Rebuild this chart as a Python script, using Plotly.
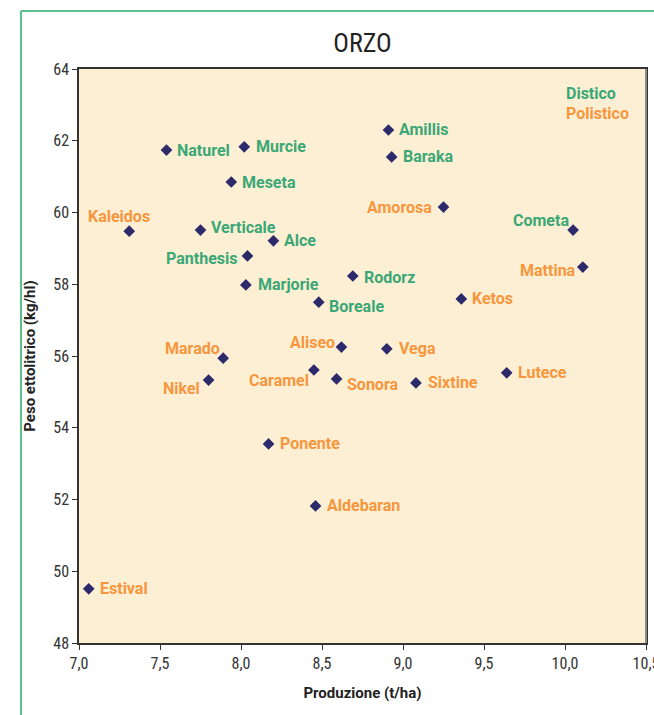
import plotly.graph_objects as go

varieties = ["Naturel", "Murcie", "Meseta", "Kaleidos", "Verticale", "Alce", "Panthesis",
             "Marjorie", "Boreale", "Rodorz", "Amillis", "Baraka", "Amorosa", "Cometa",
             "Mattina", "Ketos", "Marado", "Nikel", "Aliseo", "Caramel", "Sonora", "Vega",
             "Sixtine", "Lutece", "Ponente", "Aldebaran", "Estival"]
produzione = [7.54, 8.02, 7.94, 7.31, 7.75, 8.20, 8.04,
              8.03, 8.48, 8.69, 8.91, 8.93, 9.25, 10.05,
              10.11, 9.36, 7.89, 7.80, 8.62, 8.45, 8.59, 8.90,
              9.08, 9.64, 8.17, 8.46, 7.06]
peso = [61.74, 61.83, 60.85, 59.48, 59.51, 59.21, 58.79,
        57.98, 57.50, 58.23, 62.30, 61.55, 60.15, 59.51,
        58.48, 57.59, 55.94, 55.33, 56.25, 55.61, 55.36, 56.20,
        55.25, 55.53, 53.55, 51.82, 49.51]
tipo = ["D", "D", "D", "P", "D", "D", "D",
        "D", "D", "D", "D", "D", "P", "D",
        "P", "P", "P", "P", "P", "P", "P", "P",
        "P", "P", "P", "P", "P"]
x_ticks = [7.0, 7.5, 8.0, 8.5, 9.0, 9.5, 10.0, 10.5]
y_ticks = [48, 50, 52, 54, 56, 58, 60, 62, 64]

GREEN = "#3aa776"
ORANGE = "#f7963c"
MARKER = "#2d2a6b"
BG = "#fdefd4"
COND = "Liberation Sans Narrow, Roboto Condensed, Roboto, sans-serif"
LABF = "Roboto, Liberation Sans, sans-serif"

# label placement: (xanchor, xshift, yshift)
place = {
    "Naturel": ("left", 9, 0), "Murcie": ("left", 10, 0), "Meseta": ("left", 9, 0),
    "Kaleidos": ("center", -10, 15), "Verticale": ("left", 8, 3), "Alce": ("left", 9, 0),
    "Panthesis": ("right", -8, -3), "Marjorie": ("left", 10, 0), "Boreale": ("left", 8, -4),
    "Rodorz": ("left", 9, -1), "Amillis": ("left", 9, 0), "Baraka": ("left", 9, 0),
    "Amorosa": ("right", -10, 0), "Cometa": ("right", -2, 10), "Mattina": ("right", -5, -3),
    "Ketos": ("left", 9, 0), "Marado": ("right", -1, 10), "Nikel": ("right", -7, -8),
    "Aliseo": ("right", -4, 5), "Caramel": ("right", -3, -11), "Sonora": ("left", 8, -6),
    "Vega": ("left", 10, 0), "Sixtine": ("left", 10, 0), "Lutece": ("left", 9, 0),
    "Ponente": ("left", 9, 0), "Aldebaran": ("left", 9, 0), "Estival": ("left", 9, 0),
}

fig = go.Figure()
fig.add_trace(go.Scatter(
    x=produzione, y=peso, mode="markers",
    marker=dict(symbol="diamond", size=9, color=MARKER),
    hovertext=varieties, showlegend=False, cliponaxis=False,
))

annotations = []
for name, xv, yv, t in zip(varieties, produzione, peso, tipo):
    xa, xs, ys = place[name]
    annotations.append(dict(
        x=xv, y=yv, xref="x", yref="y", text=name, showarrow=False,
        xanchor=xa, yanchor="middle", xshift=xs, yshift=ys,
        font=dict(family=LABF, size=16, color=GREEN if t == "D" else ORANGE, weight="bold"),
    ))

# legend text
annotations.append(dict(x=0.903, y=0.958, xref="paper", yref="paper", text="Distico",
                        showarrow=False, xanchor="center", yanchor="middle",
                        font=dict(family=LABF, size=16, color=GREEN, weight="bold")))
annotations.append(dict(x=0.914, y=0.923, xref="paper", yref="paper", text="Polistico",
                        showarrow=False, xanchor="center", yanchor="middle",
                        font=dict(family=LABF, size=16, color=ORANGE, weight="bold")))

shapes = [
    dict(type="line", xref="paper", yref="paper", x0=-0.1023, x1=-0.1023, y0=-0.13, y1=1.101,
         line=dict(color="#5cc08a", width=2)),
    dict(type="line", xref="paper", yref="paper", x0=-0.1023, x1=1.03, y0=1.101, y1=1.101,
         line=dict(color="#5cc08a", width=2)),
    dict(type="line", xref="paper", yref="paper", x0=1, x1=1, y0=0, y1=1,
         line=dict(color="#8a8a8a", width=2)),
]

fig.update_layout(
    width=654, height=715,
    margin=dict(l=79, r=8, t=69, b=72, autoexpand=False),
    paper_bgcolor="white", plot_bgcolor=BG,
    separators=",.",
    title=dict(text="ORZO", x=0.5, xanchor="center", xref="paper", y=1 - 43 / 715,
               yanchor="middle",
               font=dict(family=COND, size=26, color="#222")),
    annotations=annotations, shapes=shapes,
    xaxis=dict(range=[7.0, 10.5], tickvals=x_ticks, tickformat=".1f", showgrid=False,
               zeroline=False, showline=True, linecolor="#333", linewidth=1.5, mirror=True,
               ticks="outside", ticklen=5, tickcolor="#333", ticklabeloverflow="allow",
               automargin=False,
               tickfont=dict(family=COND, size=16, color="#333"),
               title=dict(text="Produzione (t/ha)", standoff=16,
                          font=dict(family=LABF, size=15, color="#222", weight="bold"))),
    yaxis=dict(range=[48, 64], tickvals=y_ticks, showgrid=False, zeroline=False,
               showline=True, linecolor="#333", linewidth=1.5, mirror=True,
               ticks="outside", ticklen=5, tickcolor="#333", automargin=False,
               tickfont=dict(family=COND, size=16, color="#333"),
               title=dict(text="Peso ettolitrico (kg/hl)", standoff=14,
                          font=dict(family=LABF, size=15, color="#222", weight="bold"))),
)

fig.write_html("out.html", config={"displayModeBar": False},
               post_script="document.body.style.margin='0';document.body.style.overflow='hidden';")
